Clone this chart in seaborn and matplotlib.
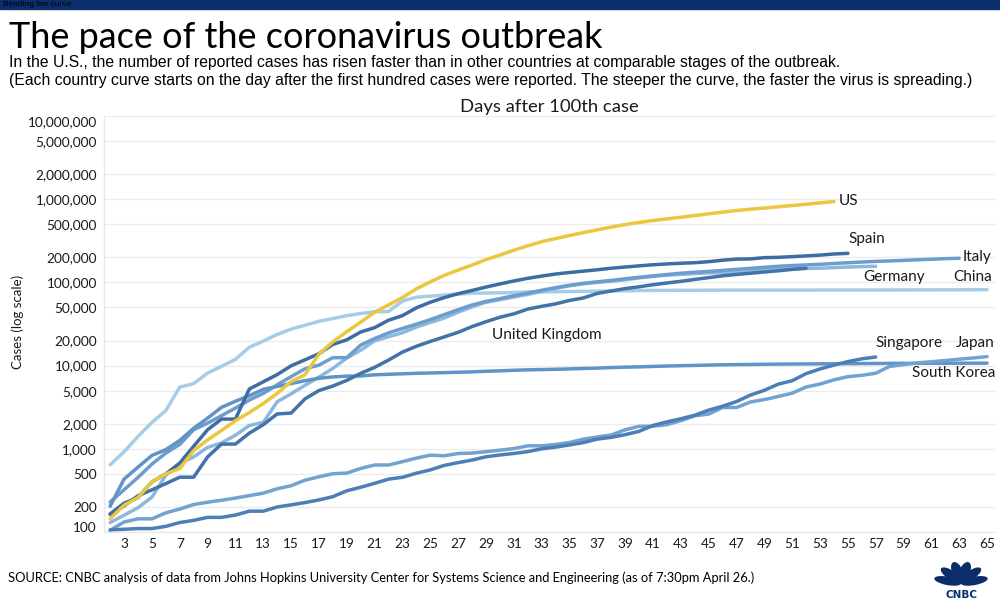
import math
import matplotlib
matplotlib.use('Agg')
from matplotlib import pyplot as plt
from matplotlib.patches import Rectangle, Ellipse
from matplotlib.ticker import FixedLocator, LogLocator, NullFormatter
import pandas as pd
import seaborn as sns

# cases per day, every series starts on day 2 (the day after the 100th case)
us = [145, 210, 260, 400, 500, 580, 950, 1280, 1660, 2180, 2730, 3500, 4630, 6420, 7780,
      13700, 19300, 25600, 33300, 43800, 53700, 65800, 83800, 101700, 121500, 140900,
      161800, 188200, 213200, 243600, 275400, 308700, 336800, 366300, 397100, 428700,
      462800, 496500, 526400, 555300, 580600, 607700, 636400, 667800, 699700, 732200,
      759100, 784300, 811900, 840400, 869200, 905400, 938200]
spain = [165, 222, 259, 400, 500, 673, 1073, 1695, 2277, 2277, 5232, 6391, 7798, 9942,
         11748, 13910, 17963, 20410, 25374, 28603, 35136, 39885, 49515, 57786, 65719,
         73235, 80110, 87956, 95923, 104118, 112065, 119199, 126168, 131646, 136675,
         141942, 148220, 153222, 158273, 163027, 166831, 170099, 172541, 177644, 184948,
         190839, 191726, 198674, 200210, 204178, 208389, 213024, 219764, 223759]
italy = [229, 322, 453, 655, 888, 1128, 1694, 2036, 2502, 3089, 3858, 4636, 5883, 7375,
         9172, 10149, 12462, 12462, 17660, 21157, 24747, 27980, 31506, 35713, 41035,
         47021, 53578, 59138, 63927, 69176, 74386, 80589, 86498, 92472, 97689, 101739,
         105792, 110574, 115242, 119827, 124632, 128948, 132547, 135586, 139422, 143626,
         147577, 152271, 156363, 159516, 162488, 165155, 168941, 172434, 175925, 178972,
         181228, 183957, 187327, 189973, 192994, 195351]
germany = [130, 159, 196, 262, 482, 670, 799, 1040, 1176, 1457, 1908, 2078, 3675, 4585,
           5795, 7272, 9257, 12327, 15320, 19848, 22213, 24873, 29056, 32986, 37323,
           43938, 50871, 57695, 62095, 66885, 71808, 77872, 84794, 91159, 96092, 100123,
           103374, 107663, 113296, 118181, 122171, 124908, 127854, 130072, 131359, 134753,
           137698, 141397, 143342, 145184, 147065, 148291, 150648, 153129, 154999, 156513]
uk = [163, 206, 273, 321, 382, 456, 456, 798, 1140, 1140, 1543, 1950, 2626, 2689, 3983,
      5018, 5683, 6650, 8077, 9529, 11658, 14543, 17089, 19522, 22141, 25150, 29474,
      33718, 38168, 41903, 47806, 51608, 55242, 60733, 65077, 73758, 78991, 84279, 88621,
      93873, 98476, 103093, 108692, 114217, 120067, 124743, 129044, 133495, 138078,
      143464, 148377]
china = [643, 920, 1406, 2075, 2877, 5509, 6087, 8141, 9802, 11891, 16630, 19716, 23707,
         27440, 30587, 34110, 36814, 39829, 42354, 44386, 44759, 59895, 66358, 68413,
         70513, 72434, 74211, 74619, 75077, 75550, 77001, 77022, 77241, 77754, 78166,
         78600, 78928, 79356, 79932, 80136, 80261, 80386, 80537, 80690, 80770, 80823,
         80860, 80887, 80921, 80932, 80945, 80977, 81003, 81033, 81058, 81102, 81156,
         81250, 81305, 81435, 81498, 81591, 81661, 81782]
south_korea = [204, 433, 602, 833, 977, 1261, 1766, 2337, 3150, 3736, 4335, 5186, 5621,
               6088, 6593, 7041, 7314, 7478, 7513, 7755, 7869, 7979, 8086, 8162, 8236,
               8320, 8413, 8565, 8652, 8799, 8897, 8961, 9037, 9137, 9241, 9332, 9478,
               9583, 9661, 9786, 9887, 9976, 10062, 10156, 10237, 10284, 10331, 10384,
               10423, 10450, 10480, 10512, 10537, 10564, 10591, 10613, 10635, 10653,
               10661, 10674, 10683, 10694, 10702, 10708]
japan = [105, 132, 144, 144, 170, 189, 214, 228, 241, 256, 274, 293, 331, 360, 420, 461,
         502, 511, 581, 639, 639, 701, 773, 839, 825, 878, 889, 924, 963, 1007, 1086,
         1086, 1128, 1193, 1307, 1387, 1468, 1693, 1866, 1866, 1953, 2178, 2495, 2617,
         3139, 3139, 3654, 3906, 4257, 4667, 5530, 6005, 6748, 7370, 7645, 8100, 9787,
         10296, 10797, 11135, 11512, 11950, 12368, 12829]
singapore = [106, 108, 110, 110, 117, 130, 138, 150, 150, 160, 178, 178, 200, 212, 226,
             243, 266, 313, 345, 385, 432, 455, 509, 558, 631, 683, 732, 802, 844, 879,
             926, 1000, 1049, 1114, 1189, 1309, 1375, 1481, 1623, 1910, 2108, 2299, 2532,
             2918, 3252, 3699, 4427, 5050, 5992, 6588, 8014, 9125, 10141, 11178, 12075,
             12693]

series = {'China': china, 'Germany': germany, 'Italy': italy, 'South Korea': south_korea,
          'Japan': japan, 'Singapore': singapore, 'United Kingdom': uk, 'Spain': spain,
          'US': us}
colors = {'China': '#a6cde8', 'Germany': '#8db8de', 'Italy': '#6c9dcc',
          'South Korea': '#6194c6', 'Japan': '#72a2d0', 'Singapore': '#4b7fb5',
          'United Kingdom': '#4274aa', 'Spain': '#3d6da3', 'US': '#ebc63f'}

y_ticks = [100, 200, 500, 1000, 2000, 5000, 10000, 20000, 50000, 100000, 200000,
           500000, 1000000, 2000000, 5000000, 10000000]
x_ticks = list(range(3, 66, 2))

rows = []
for name, vals in series.items():
    for i, v in enumerate(vals):
        rows.append({'country': name, 'day': i + 2, 'cases': v})
df = pd.DataFrame(rows)

sns.set_style('white')
plt.rcParams['font.family'] = ['Lato', 'DejaVu Sans']

fig = plt.figure(figsize=(10, 6), dpi=100)
ax = fig.add_axes([0.104, 0.1133, 0.891, 0.6933])

sns.lineplot(data=df, x='day', y='cases', hue='country', hue_order=list(series.keys()),
             palette=colors, linewidth=2.5, legend=False, ax=ax)

ax.set_yscale('log')
ax.set_ylim(100, 10000000)
ax.set_xlim(1.56, 65.57)
ax.yaxis.set_major_locator(FixedLocator(y_ticks))
ax.set_yticklabels([f'{t:,}' for t in y_ticks])
ax.yaxis.set_minor_locator(LogLocator(base=10, subs=[2, 3, 4, 5, 6, 7, 8, 9], numticks=20))
ax.yaxis.set_minor_formatter(NullFormatter())
ax.set_xticks(x_ticks)
ax.set_xticklabels([str(t) for t in x_ticks])
ax.tick_params(axis='both', which='major', length=0, labelsize=9.8, colors='#1a1a1a')
ax.tick_params(axis='y', which='major', pad=5)
ax.tick_params(axis='x', which='major', pad=4)
ax.tick_params(axis='y', which='minor', length=3, width=0.6, color='#e0e0e0')
# the outermost labels sit a little inside the plot, as in the original
ylabels = ax.get_yticklabels()
ylabels[0].set_va('baseline')
ylabels[-1].set_va('top')
ax.yaxis.grid(True, which='major', color='#ececec', lw=1)
ax.xaxis.grid(False)
for s in ['top', 'right']:
    ax.spines[s].set_visible(False)
for s in ['left', 'bottom']:
    ax.spines[s].set_color('#e8e8e8')
    ax.spines[s].set_linewidth(1)
ax.set_xlabel('')
ax.set_ylabel('Cases (log scale)', fontsize=9.5, color='#1a1a1a')
ax.yaxis.set_label_coords(-0.090, 0.505)
ax.set_title('Days after 100th case', fontsize=13.3, color='#1a1a1a', pad=3)

# country labels, placed relative to each line's last point
lab = dict(fontsize=11, color='#1a1a1a', va='center')
def tag(name, dx, dy, ha='left'):
    vals = series[name]
    ax.annotate(name, xy=(len(vals) + 1, vals[-1]), xytext=(dx, dy),
                textcoords='offset pixels', ha=ha, **lab)

tag('US', 5, 1)
tag('Spain', 1, 14)
tag('Italy', 3, 1)
tag('China', 5, 13, ha='right')
tag('Germany', 18, -11, ha='center')
tag('Singapore', 0, 14)
tag('Japan', 8, 14, ha='right')
tag('South Korea', 8, -10, ha='right')
ax.text(29.4, 23400, 'United Kingdom', **lab)

# header and footer
fig.patches.append(Rectangle((0, 1 - 9 / 600), 1, 9 / 600, transform=fig.transFigure,
                             color='#0b2d6b', zorder=0))
fig.text(0.003, 1 - 4.5 / 600, 'Bending the curve', fontsize=6, color='#000000',
         va='center', family=['Liberation Sans'])
fig.text(0.009, 1 - 38 / 600, 'The pace of the coronavirus outbreak', fontsize=26,
         color='#000000', va='center')
fig.text(0.009, 1 - 62 / 600,
         'In the U.S., the number of reported cases has risen faster than in other '
         'countries at comparable stages of the outbreak.',
         fontsize=11.35, color='#000000', va='center', family=['Liberation Sans'])
fig.text(0.009, 1 - 80 / 600,
         '(Each country curve starts on the day after the first hundred cases were '
         'reported. The steeper the curve, the faster the virus is spreading.)',
         fontsize=11.35, color='#000000', va='center', family=['Liberation Sans'])
fig.text(0.008, 1 - 578 / 600,
         'SOURCE: CNBC analysis of data from Johns Hopkins University Center for Systems '
         'Science and Engineering (as of 7:30pm April 26.)',
         fontsize=9.3, color='#000000', va='center')

# CNBC peacock logo
lg = fig.add_axes([0.932, 0.0, 0.058, 0.068])
lg.axis('off')
lg.set_xlim(-1.1, 1.1)
lg.set_ylim(-0.95, 1.1)
for k in range(6):
    ang = 15 + 30 * k
    cx = 0.52 * math.cos(math.radians(ang))
    cy = -0.15 + 0.62 * math.sin(math.radians(ang))
    lg.add_patch(Ellipse((cx, cy), 1.05, 0.42, angle=ang, color='#0b2d6b', lw=0))
lg.text(0, -0.68, 'CNBC', ha='center', va='center', fontsize=7.5, fontweight='heavy',
        color='#0b2d6b', family=['DejaVu Sans'])

fig.savefig('out.png', dpi=100)
